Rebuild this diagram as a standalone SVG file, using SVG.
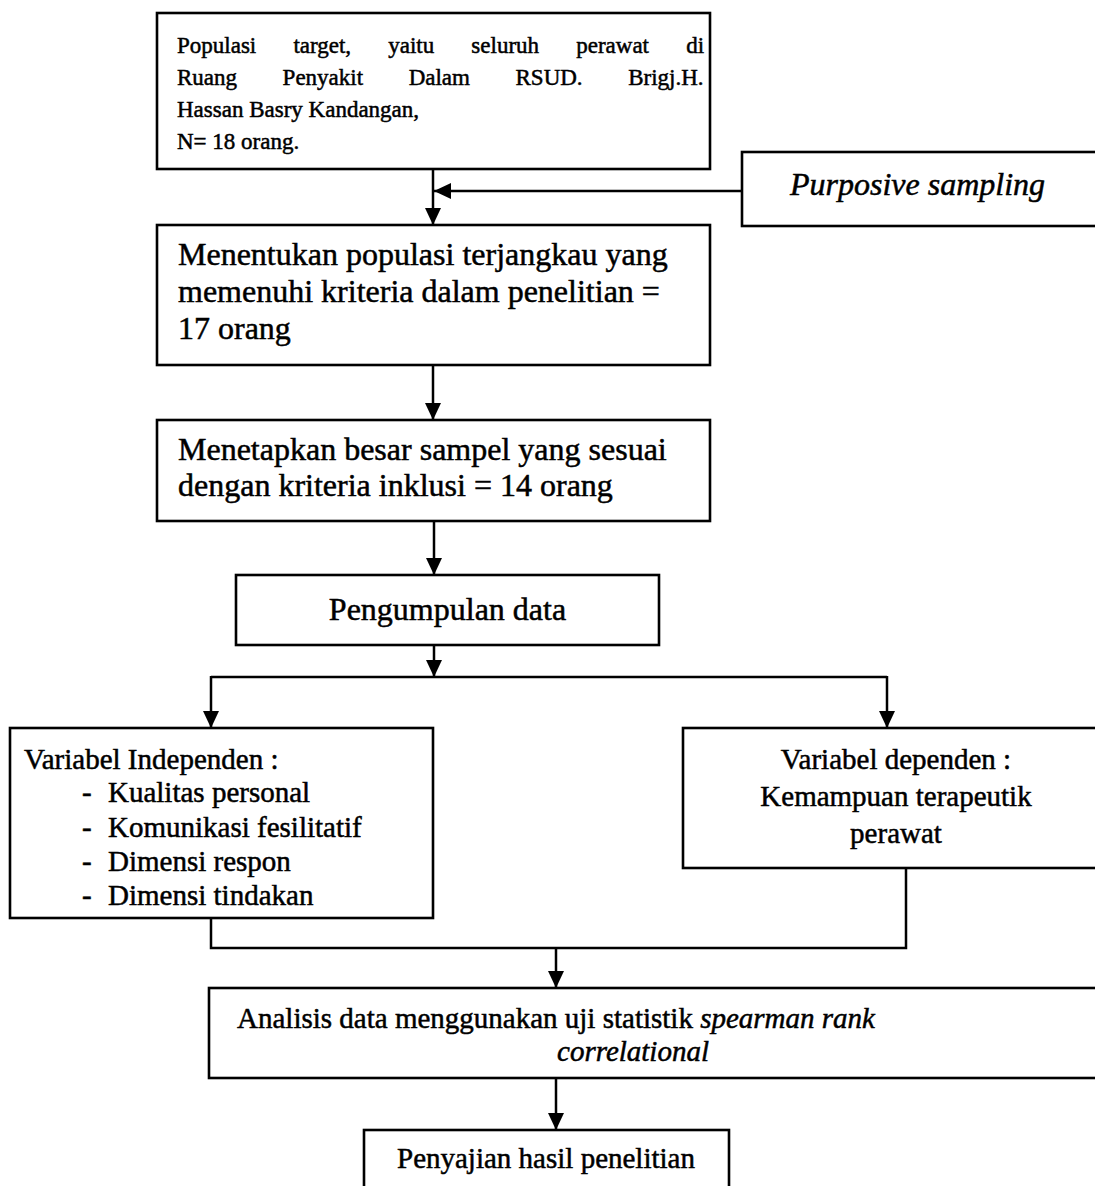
<svg xmlns="http://www.w3.org/2000/svg" width="1095" height="1186" viewBox="0 0 1095 1186">
<style>
.box{fill:#fff;stroke:#000;stroke-width:2.6}
.t{font-family:"Liberation Serif","Times New Roman",serif;fill:#000;stroke:#000;stroke-width:0.5}
.s23{font-size:23px}
.s32{font-size:32px}
.s29{font-size:29px}
.it{font-style:italic}
.c{text-anchor:middle}
.ln{fill:none;stroke:#000;stroke-width:2.5}
</style>
<defs>
<marker id="ah" viewBox="0 0 17 16" refX="17" refY="8" markerWidth="17" markerHeight="16" markerUnits="userSpaceOnUse" orient="auto">
<path d="M0,0 L17,8 L0,16 Z" fill="#000"/>
</marker>
</defs>
<rect width="1095" height="1186" fill="#fff"/>
<g id="connectors">
<line class="ln" x1="433" y1="169" x2="433" y2="225" marker-end="url(#ah)"/>
<line class="ln" x1="742" y1="191" x2="434" y2="191" marker-end="url(#ah)"/>
<line class="ln" x1="433" y1="365" x2="433" y2="420" marker-end="url(#ah)"/>
<line class="ln" x1="434" y1="521" x2="434" y2="575" marker-end="url(#ah)"/>
<line class="ln" x1="434" y1="645" x2="434" y2="677" marker-end="url(#ah)"/>
<polyline class="ln" points="211,677 887,677"/>
<line class="ln" x1="211" y1="676" x2="211" y2="728" marker-end="url(#ah)"/>
<line class="ln" x1="887" y1="676" x2="887" y2="728" marker-end="url(#ah)"/>
<polyline class="ln" points="211,918 211,948 906,948 906,868"/>
<line class="ln" x1="556" y1="948" x2="556" y2="988" marker-end="url(#ah)"/>
<line class="ln" x1="556" y1="1078" x2="556" y2="1130" marker-end="url(#ah)"/>
</g>
<g id="node-populasi">
<rect class="box" x="157" y="13" width="553" height="156"/>
<text class="t s23" x="177" y="53" word-spacing="31.4">Populasi target, yaitu seluruh perawat di</text>
<text class="t s23" x="177" y="85" word-spacing="39.8">Ruang Penyakit Dalam RSUD. Brigj.H.</text>
<text class="t s23" x="177" y="117">Hassan Basry Kandangan,</text>
<text class="t s23" x="177" y="149">N= 18 orang.</text>
</g>
<g id="node-purposive">
<rect class="box" x="742" y="152" width="380" height="74"/>
<text class="t s32 it" x="790" y="195">Purposive sampling</text>
</g>
<g id="node-terjangkau">
<rect class="box" x="157" y="225" width="553" height="140"/>
<text class="t s32" x="178" y="265">Menentukan populasi terjangkau yang</text>
<text class="t s32" x="178" y="302">memenuhi kriteria dalam penelitian =</text>
<text class="t s32" x="178" y="339">17 orang</text>
</g>
<g id="node-sampel">
<rect class="box" x="157" y="420" width="553" height="101"/>
<text class="t s32" x="178" y="460">Menetapkan besar sampel yang sesuai</text>
<text class="t s32" x="178" y="496">dengan kriteria inklusi = 14 orang</text>
</g>
<g id="node-pengumpulan">
<rect class="box" x="236" y="575" width="423" height="70"/>
<text class="t s32 c" x="447.5" y="620">Pengumpulan data</text>
</g>
<g id="node-independen">
<rect class="box" x="10" y="728" width="423" height="190"/>
<text class="t s29" x="24" y="769">Variabel Independen :</text>
<text class="t s29" x="82" y="802">-</text>
<text class="t s29" x="108" y="802">Kualitas personal</text>
<text class="t s29" x="82" y="837">-</text>
<text class="t s29" x="108" y="837">Komunikasi fesilitatif</text>
<text class="t s29" x="82" y="871">-</text>
<text class="t s29" x="108" y="871">Dimensi respon</text>
<text class="t s29" x="82" y="905">-</text>
<text class="t s29" x="108" y="905">Dimensi tindakan</text>
</g>
<g id="node-dependen">
<rect class="box" x="683" y="728" width="430" height="140"/>
<text class="t s29 c" x="896" y="769">Variabel dependen :</text>
<text class="t s29 c" x="896" y="806">Kemampuan terapeutik</text>
<text class="t s29 c" x="896" y="843">perawat</text>
</g>
<g id="node-analisis">
<rect class="box" x="209" y="988" width="904" height="90"/>
<text class="t s29 c" x="556" y="1028">Analisis data menggunakan uji statistik <tspan class="it">spearman rank</tspan></text>
<text class="t s29 c it" x="633" y="1061">correlational</text>
</g>
<g id="node-penyajian">
<rect class="box" x="364" y="1130" width="365" height="70"/>
<text class="t s29 c" x="546" y="1168">Penyajian hasil penelitian</text>
</g>
</svg>
